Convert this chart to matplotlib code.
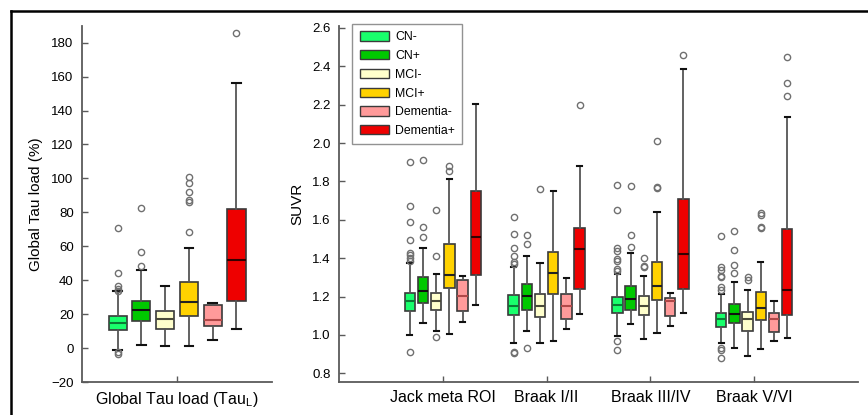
import matplotlib
matplotlib.use("Agg")
import matplotlib.pyplot as plt
from matplotlib.patches import Patch
from matplotlib.lines import Line2D

plt.rcParams['font.family'] = ['Liberation Sans', 'DejaVu Sans']

groups = ['CN-', 'CN+', 'MCI-', 'MCI+', 'Dementia-', 'Dementia+']
box_colors = ['#19ff6c', '#00c800', '#ffffcc', '#ffd200', '#ff9a9a', '#ee0000']
median_colors = ['#0b7a35', '#111111', '#4a4a3a', '#222222', '#b04848', '#330000']

# Global Tau load (%) per group
tau_whislo = [-1.0, 2.0, 1.0, 1.4, 4.5, 11.2]
tau_q1 = [10.6, 15.7, 11.2, 19.1, 12.8, 27.5]
tau_med = [15.0, 22.6, 17.1, 27.1, 16.7, 51.7]
tau_q3 = [19.1, 27.9, 21.6, 38.8, 25.2, 82.2]
tau_whishi = [33.4, 46.2, 36.8, 59.0, 26.6, 156.0]
tau_fliers = [
    [70.8, 44.3, 36.5, 35.0, 33.8, -2.5, -3.5],
    [82.6, 56.7, 48.2],
    [],
    [100.9, 97.0, 91.9, 87.0, 86.3, 68.5],
    [],
    [185.9],
]

# regional SUVR per group
regions = ['Jack meta ROI', 'Braak I/II', 'Braak III/IV', 'Braak V/VI']
suvr_whislo = [
    [0.999, 1.060, 1.022, 1.004, 1.068, 1.155],
    [0.956, 1.020, 0.956, 0.968, 1.030, 1.108],
    [0.994, 1.056, 0.977, 1.008, 1.046, 1.115],
    [0.956, 0.933, 0.890, 0.925, 0.968, 0.982],
]
suvr_q1 = [
    [1.124, 1.169, 1.129, 1.247, 1.124, 1.314],
    [1.103, 1.132, 1.094, 1.215, 1.082, 1.240],
    [1.115, 1.132, 1.103, 1.184, 1.098, 1.241],
    [1.039, 1.063, 1.022, 1.080, 1.016, 1.103],
]
suvr_med = [
    [1.177, 1.231, 1.177, 1.314, 1.203, 1.513],
    [1.150, 1.201, 1.150, 1.324, 1.150, 1.449],
    [1.155, 1.189, 1.150, 1.255, 1.176, 1.420],
    [1.082, 1.108, 1.082, 1.141, 1.082, 1.233],
]
suvr_q3 = [
    [1.219, 1.302, 1.219, 1.475, 1.288, 1.752],
    [1.207, 1.267, 1.212, 1.432, 1.215, 1.556],
    [1.198, 1.253, 1.203, 1.380, 1.195, 1.710],
    [1.115, 1.163, 1.120, 1.224, 1.115, 1.551],
]
suvr_whishi = [
    [1.376, 1.454, 1.319, 1.812, 1.305, 2.202],
    [1.354, 1.409, 1.376, 1.748, 1.298, 1.878],
    [1.319, 1.427, 1.305, 1.639, 1.219, 2.387],
    [1.215, 1.276, 1.233, 1.380, 1.176, 2.138],
]
suvr_fliers = [
    [[1.901, 1.671, 1.591, 1.496, 1.428, 1.415, 1.400, 1.385, 0.911],
     [1.911, 1.562, 1.510], [1.652, 1.409, 0.990], [1.878, 1.852], [], []],
    [[1.613, 1.527, 1.454, 1.409, 1.380, 1.371, 0.912, 0.906],
     [1.523, 1.472, 0.930], [1.760], [], [], [2.198]],
    [[1.781, 1.652, 1.454, 1.437, 1.397, 1.385, 1.345, 1.333, 0.970, 0.921],
     [1.776, 1.523, 1.458], [1.402, 1.359, 1.354], [2.011, 1.769, 1.765], [], [2.461]],
    [[1.515, 1.354, 1.340, 1.309, 1.300, 1.250, 1.236, 0.930, 0.921, 0.878],
     [1.544, 1.445, 1.362, 1.324], [1.302, 1.285], [1.638, 1.624, 1.565, 1.556], [], [2.448, 2.311, 2.245]],
]


def make_stats(lo, q1, med, q3, hi, fl):
    return [dict(whislo=lo[i], q1=q1[i], med=med[i], q3=q3[i], whishi=hi[i], fliers=fl[i])
            for i in range(len(groups))]


def draw_boxes(ax, stats, center, step, width, capw):
    pos = [center + (i - 2.5) * step for i in range(len(groups))]
    out = ax.bxp(stats, positions=pos, widths=width, capwidths=capw, patch_artist=True,
                 manage_ticks=False,
                 boxprops=dict(edgecolor='#3a3a3a', linewidth=1.2),
                 whiskerprops=dict(color='#555555', linewidth=1.3),
                 capprops=dict(color='#111111', linewidth=1.5),
                 flierprops=dict(marker='o', markerfacecolor='none', markeredgecolor='#707070',
                                 markersize=4.5, markeredgewidth=1.0))
    for i, box in enumerate(out['boxes']):
        box.set_facecolor(box_colors[i])
    for i, m in enumerate(out['medians']):
        m.set_color(median_colors[i])
        m.set_linewidth(1.5)


def style_axis(ax):
    for s in ('top', 'right'):
        ax.spines[s].set_visible(False)
    for s in ('left', 'bottom'):
        ax.spines[s].set_color('#5a5a5a')
        ax.spines[s].set_linewidth(1.3)
    ax.tick_params(direction='in', length=4, width=1.0, color='#5a5a5a', labelsize=9.5, pad=6)
    ax.tick_params(axis='x', labelsize=11.5, pad=6)


fig = plt.figure(figsize=(8.68, 4.15), dpi=100)

# left panel: global tau load
ax1 = fig.add_axes([0.0945, 0.0795, 0.219, 0.857])
draw_boxes(ax1, make_stats(tau_whislo, tau_q1, tau_med, tau_q3, tau_whishi, tau_fliers),
           1.0, 0.25, 0.19, 0.09)
ax1.set_xlim(0, 2)
ax1.set_ylim(-20, 189.6)
ax1.set_yticks(range(-20, 181, 20))
ax1.set_xticks([1])
ax1.set_xticklabels([r'Global Tau load (Tau$_\mathregular{L}$)'])
ax1.set_ylabel('Global Tau load (%)', fontsize=11)
ax1.yaxis.set_label_coords(-0.205, 0.5)
style_axis(ax1)

# right panel: regional SUVR
ax2 = fig.add_axes([0.3905, 0.0795, 0.598, 0.8575])
for r in range(len(regions)):
    st = make_stats(suvr_whislo[r], suvr_q1[r], suvr_med[r], suvr_q3[r], suvr_whishi[r], suvr_fliers[r])
    draw_boxes(ax2, st, r + 1, 0.127, 0.1, 0.05)
ax2.set_xlim(0, 5)
ax2.set_ylim(0.755, 2.609)
ax2.set_yticks([0.8 + 0.2 * k for k in range(10)])
ax2.set_yticklabels([f'{0.8 + 0.2 * k:.1f}' for k in range(10)])
ax2.set_xticks(range(1, len(regions) + 1))
ax2.set_xticklabels(regions)
ax2.set_ylabel('SUVR', fontsize=11)
ax2.yaxis.set_label_coords(-0.066, 0.5)
style_axis(ax2)

handles = [Patch(facecolor=c, edgecolor='#3a3a3a', linewidth=1.0) for c in box_colors]
leg = ax2.legend(handles, groups, loc='upper left', bbox_to_anchor=(0.026, 1.006),
                 borderaxespad=0, fontsize=8.8, fancybox=False, edgecolor='#777777',
                 handlelength=2.4, handleheight=0.8, labelspacing=0.55, handletextpad=0.5,
                 borderpad=0.6)
leg.get_frame().set_linewidth(1.0)

# outer frame (top and left edges)
fig.add_artist(Line2D([11 / 868, 1.0], [1 - 11 / 415, 1 - 11 / 415], color='black', linewidth=1.8))
fig.add_artist(Line2D([11 / 868, 11 / 868], [0.0, 1 - 11 / 415], color='black', linewidth=1.8))

fig.savefig('out.png', dpi=100)
